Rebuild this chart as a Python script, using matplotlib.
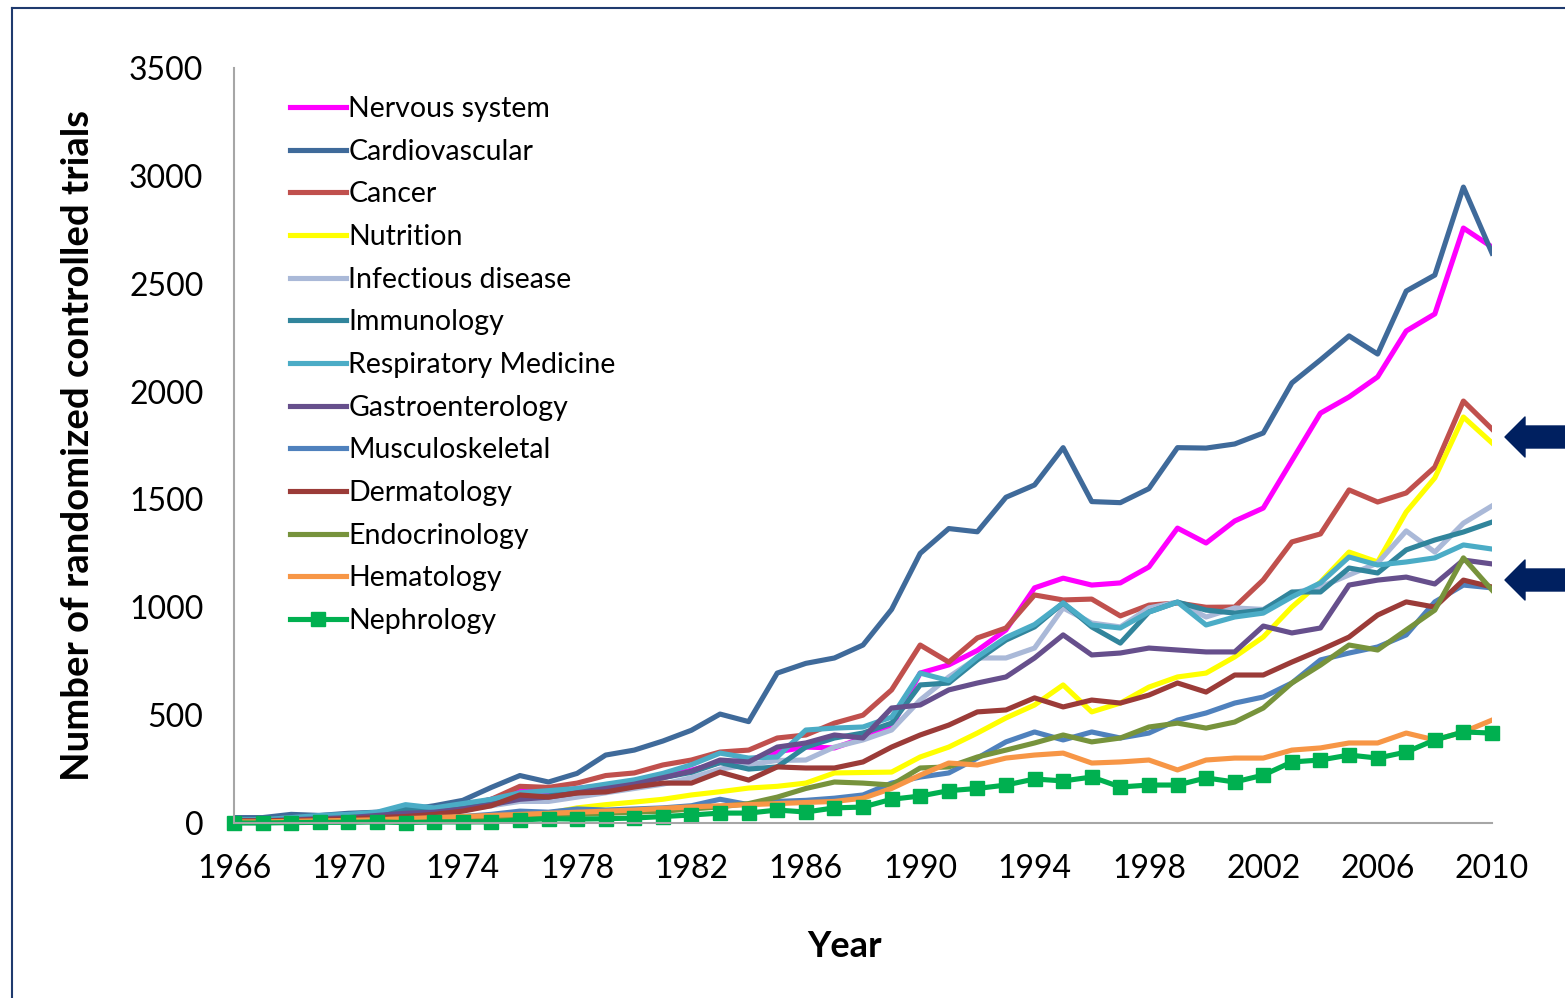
import matplotlib
matplotlib.use("Agg")
import matplotlib.pyplot as plt
from matplotlib.lines import Line2D
from matplotlib.patches import Polygon

plt.rcParams["font.family"] = ["Lato", "DejaVu Sans"]

years = list(range(1966, 2011))

nervous = [10, 12, 18, 25, 35, 45, 50, 60, 75, 110, 150, 140, 160, 175, 190, 215, 245, 280, 292, 330,
           352, 348, 394, 445, 695, 733, 800, 895, 1090, 1135, 1103, 1113, 1187, 1367, 1298, 1400, 1460,
           1680, 1900, 1975, 2068, 2281, 2360, 2758, 2670]
cardio = [25, 25, 40, 35, 45, 50, 60, 80, 105, 165, 220, 190, 230, 315, 338, 380, 430, 505, 470, 695,
          740, 765, 825, 990, 1250, 1365, 1350, 1510, 1567, 1740, 1490, 1485, 1550, 1740, 1738, 1757, 1808,
          2040, 2147, 2258, 2174, 2466, 2540, 2948, 2642]
cancer = [15, 15, 25, 30, 35, 40, 50, 60, 80, 110, 170, 165, 185, 220, 232, 269, 292, 329, 338, 394,
          408, 463, 500, 617, 825, 746, 858, 904, 1057, 1034, 1038, 960, 1010, 1020, 1000, 1001, 1127,
          1303, 1340, 1544, 1488, 1530, 1650, 1956, 1826]
nutrition = [5, 5, 8, 10, 12, 15, 18, 20, 25, 30, 35, 45, 70, 85, 97, 110, 130, 145, 162, 170,
             185, 232, 234, 236, 306, 352, 417, 487, 547, 640, 515, 556, 630, 677, 695, 770, 862,
             1001, 1117, 1256, 1210, 1442, 1600, 1882, 1762]
infectious = [10, 10, 15, 20, 25, 30, 40, 45, 60, 80, 100, 100, 120, 140, 160, 180, 210, 250, 270, 290,
              292, 352, 385, 431, 570, 677, 765, 765, 811, 997, 927, 909, 997, 1024, 955, 997, 990,
              1066, 1094, 1150, 1205, 1354, 1256, 1390, 1470]
immunology = [15, 15, 25, 30, 35, 45, 65, 60, 80, 100, 120, 125, 150, 170, 190, 210, 235, 280, 250, 260,
              352, 394, 417, 463, 640, 649, 756, 848, 909, 1020, 909, 834, 978, 1024, 987, 973, 987,
              1071, 1071, 1182, 1159, 1266, 1312, 1349, 1395]
respiratory = [15, 15, 25, 35, 40, 50, 85, 70, 90, 110, 140, 150, 160, 180, 200, 230, 270, 324, 301, 306,
               431, 440, 445, 491, 695, 660, 770, 860, 920, 1020, 918, 904, 978, 1024, 918, 955, 973,
               1048, 1113, 1233, 1196, 1210, 1229, 1289, 1270]
gastro = [10, 10, 15, 20, 25, 35, 45, 50, 65, 85, 110, 120, 140, 160, 180, 210, 240, 292, 283, 352,
          371, 408, 394, 533, 547, 617, 649, 677, 765, 872, 779, 788, 811, 802, 793, 793, 913,
          881, 904, 1103, 1126, 1140, 1108, 1219, 1201]
musculo = [5, 5, 8, 10, 12, 15, 20, 25, 30, 40, 55, 50, 65, 60, 65, 70, 80, 110, 85, 100,
           105, 115, 130, 185, 213, 232, 301, 376, 422, 385, 422, 394, 417, 477, 510, 556, 584,
           649, 756, 788, 816, 872, 1025, 1103, 1090]
derma = [10, 10, 12, 15, 20, 25, 30, 40, 55, 80, 130, 120, 139, 144, 167, 185, 185, 236, 199, 260,
         255, 255, 283, 352, 408, 454, 515, 524, 580, 538, 570, 556, 593, 649, 607, 686, 686,
         746, 802, 862, 964, 1025, 1001, 1126, 1094]
endo = [3, 3, 5, 5, 8, 10, 12, 15, 20, 25, 30, 35, 40, 45, 50, 55, 65, 75, 90, 120,
        160, 190, 185, 176, 255, 260, 306, 338, 371, 408, 376, 394, 445, 463, 440, 468, 533,
        649, 732, 825, 802, 895, 987, 1229, 1080]
hemato = [5, 5, 8, 10, 12, 15, 20, 25, 30, 35, 40, 45, 50, 55, 60, 68, 75, 80, 85, 90,
          95, 100, 115, 160, 222, 278, 269, 301, 315, 324, 278, 283, 292, 246, 292, 301, 301,
          338, 348, 371, 371, 417, 385, 422, 477]
nephro = [0, 0, 2, 3, 3, 5, 2, 5, 5, 5, 14, 20, 18, 20, 23, 30, 37, 46, 46, 60,
          51, 70, 74, 110, 125, 150, 160, 176, 204, 195, 213, 167, 176, 176, 209, 190, 222,
          283, 292, 315, 301, 329, 385, 422, 417]

series = [
    ("Nervous system", nervous, "#FF00FF"),
    ("Cardiovascular", cardio, "#3F6A9A"),
    ("Cancer", cancer, "#C0504D"),
    ("Nutrition", nutrition, "#FFFF00"),
    ("Infectious disease", infectious, "#AAB9D8"),
    ("Immunology", immunology, "#31859C"),
    ("Respiratory Medicine", respiratory, "#4BACC6"),
    ("Gastroenterology", gastro, "#664F8C"),
    ("Musculoskeletal", musculo, "#4F81BD"),
    ("Dermatology", derma, "#9B3B38"),
    ("Endocrinology", endo, "#77933C"),
    ("Hematology", hemato, "#F79646"),
    ("Nephrology", nephro, "#00B050"),
]

W, H = 1565, 998
fig = plt.figure(figsize=(W / 100, H / 100), dpi=100)
ax = fig.add_axes([234 / W, 1 - 823 / H, (1492 - 234) / W, (823 - 68) / H])

for name, values, color in series:
    if name == "Nephrology":
        ax.plot(years, values, color=color, linewidth=3.7, marker="s",
                markersize=10, label=name, clip_on=False)
    else:
        ax.plot(years, values, color=color, linewidth=3.7, label=name,
                solid_joinstyle="round")

ax.set_xlim(1966, 2010)
ax.set_ylim(0, 3500)
ax.set_xticks(range(1966, 2011, 4))
ax.set_yticks(range(0, 3501, 500))
ax.tick_params(length=0, labelsize=23)
ax.tick_params(axis="y", pad=22)
ax.tick_params(axis="x", pad=22)

for side in ["top", "right"]:
    ax.spines[side].set_visible(False)
for side in ["left", "bottom"]:
    ax.spines[side].set_color("#A6A6A6")
    ax.spines[side].set_linewidth(1.5)

ax.set_ylabel("Number of randomized controlled trials", fontsize=27.5,
              fontweight="bold")
ax.yaxis.set_label_coords((95 - 234) / 1258, 0.5)
ax.set_xlabel("Year", fontsize=26, fontweight="bold")
ax.xaxis.set_label_coords((845 - 234) / 1258, (823 - 930) / 755)

ax.legend(loc="upper left", bbox_to_anchor=(290 / W, 1 - 96 / H),
          bbox_transform=fig.transFigure, frameon=False, fontsize=20.5,
          borderpad=0, borderaxespad=0, handlelength=1.95, handletextpad=0.1,
          labelspacing=0.585, numpoints=1)

# frame around the slide
navy = "#1F3A6E"
fig.add_artist(Line2D([12 / W, 12 / W], [0, 1 - 8 / H], transform=fig.transFigure,
                      color=navy, linewidth=1.5))
fig.add_artist(Line2D([12 / W, 1], [1 - 8 / H, 1 - 8 / H], transform=fig.transFigure,
                      color=navy, linewidth=1.5))

# arrows on the right
for yc in [437, 580]:
    pts = [(1505, yc), (1525, yc - 20), (1525, yc - 11), (1565, yc - 11),
           (1565, yc + 11), (1525, yc + 11), (1525, yc + 20)]
    fig.add_artist(Polygon([(x / W, 1 - y / H) for x, y in pts], closed=True,
                           transform=fig.transFigure, facecolor="#002060",
                           edgecolor="#002060", joinstyle="round"))

fig.savefig("out.png", dpi=100)
